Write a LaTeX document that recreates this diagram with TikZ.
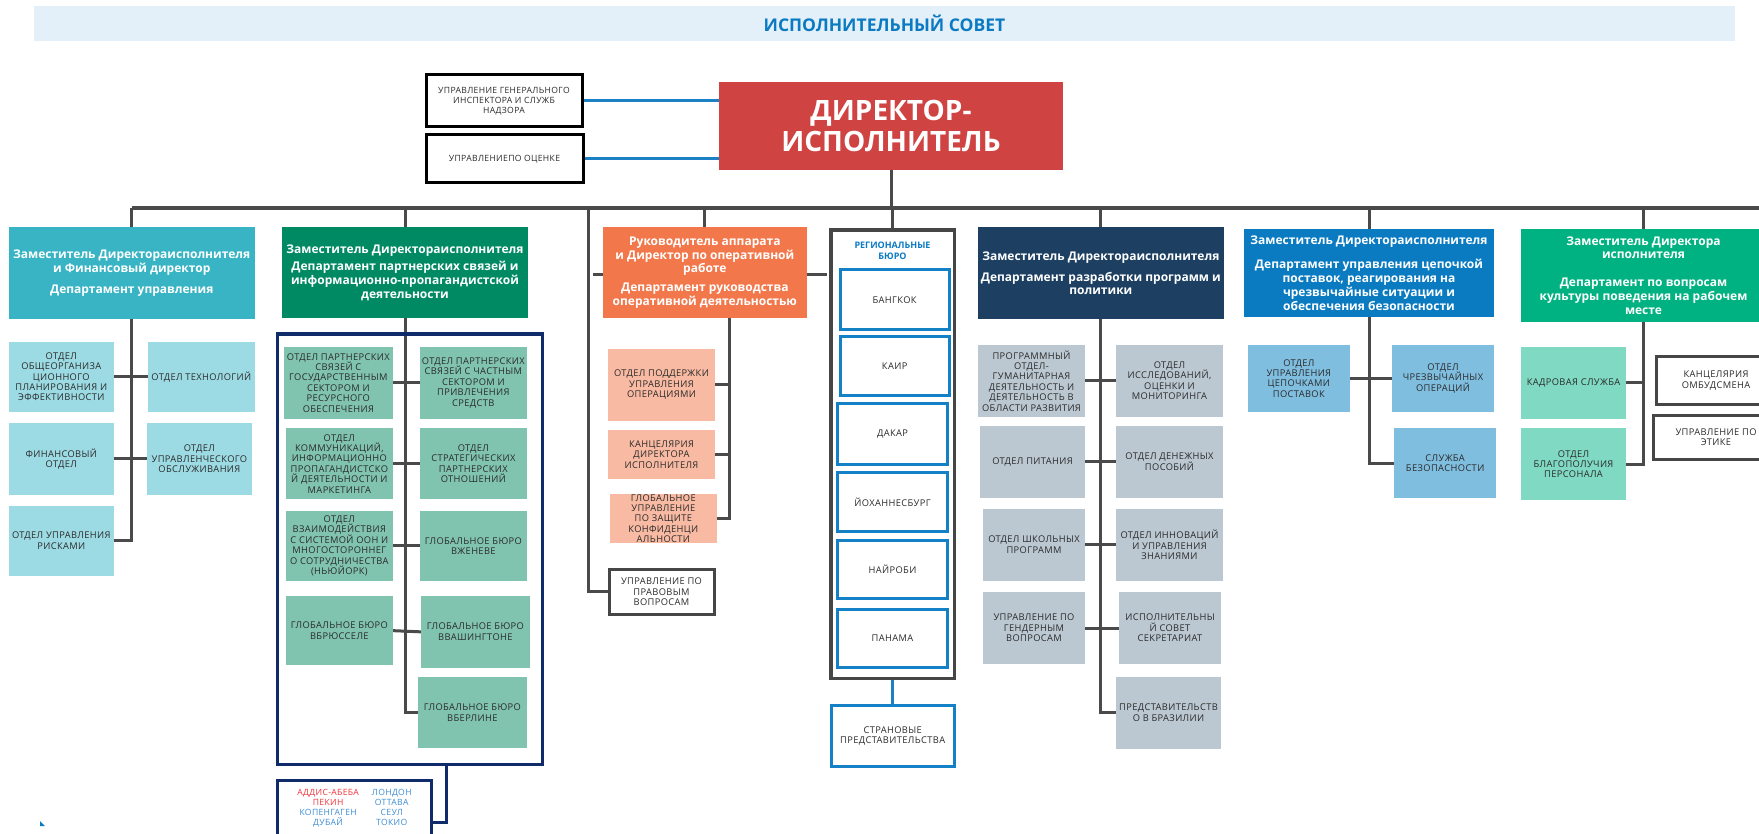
\documentclass[tikz,border=0pt]{standalone}
\usepackage{fontspec}
\setmainfont{Open Sans}
\newfontfamily\spfont[LetterSpace=4]{Open Sans}
\usetikzlibrary{backgrounds}
\definecolor{band}{HTML}{E3F0F9}
\definecolor{titleblue}{HTML}{0A7AC2}
\definecolor{dirred}{HTML}{D04343}
\definecolor{linkblue}{HTML}{1B80C4}
\definecolor{conn}{HTML}{4A4A4A}
\definecolor{txt}{HTML}{2A2A2A}
\definecolor{dA}{HTML}{38B4C4}\definecolor{cA}{HTML}{9DDBE4}
\definecolor{dB}{HTML}{008A64}\definecolor{cB}{HTML}{80C3AF}
\definecolor{navy}{HTML}{0F2B6A}
\definecolor{dC}{HTML}{F2784B}\definecolor{cC}{HTML}{F8BAA2}
\definecolor{reggray}{HTML}{464646}\definecolor{regblue}{HTML}{1481C7}
\definecolor{dD}{HTML}{1C3F62}\definecolor{cD}{HTML}{BBC8D2}
\definecolor{dE}{HTML}{0A7BC1}\definecolor{cE}{HTML}{80BEE0}
\definecolor{dF}{HTML}{00B281}\definecolor{cF}{HTML}{80D9C3}
\definecolor{cityred}{HTML}{F0343A}\definecolor{cityblue}{HTML}{3D8ED4}
\newcommand\bx[7]{\node[#2,minimum width={(#5)-(#3)},minimum height={(#6)-(#4)}] (#1) at ({((#3)+(#5))/2},{((#4)+(#6))/2}) {#7};}
\begin{document}
\begin{tikzpicture}[x=1pt,y=-1pt,
  box/.style={inner sep=0pt,outer sep=0pt,align=center,text=txt,font=\spfont\fontsize{9.3}{10.4}\selectfont},
  hdr/.style={box,text=white,font=\fontsize{12}{13.8}\selectfont\bfseries},
  wbox/.style={box,fill=white,draw=reggray,line width=3pt},
  rbox/.style={box,fill=white,draw=regblue,line width=3pt},
  cn/.style={draw=conn,line width=3pt},
  busline/.style={draw=conn,line width=4pt},
  bl/.style={draw=linkblue,line width=3pt}]
\useasboundingbox (0,0) rectangle (1759,834);
\clip (0,0) rectangle (1759,834);
% title and director
\bx{title}{box,fill=band,text=titleblue,font=\fontsize{17.5}{20}\selectfont\bfseries}{34}{6}{1735}{41}{ИСПОЛНИТЕЛЬНЫЙ СОВЕТ}
\bx{dir}{box,fill=dirred,text=white,font=\fontsize{28}{31.5}\selectfont\bfseries}{719}{82}{1063}{170}{ДИРЕКТОР-\\ИСПОЛНИТЕЛЬ}
\bx{insp}{box,fill=white,draw=black,line width=3pt,font=\spfont\fontsize{8.6}{10}\selectfont}{426}{75}{582}{127}{УПРАВЛЕНИЕ ГЕНЕРАЛЬНОГО\\ИНСПЕКТОРА И СЛУЖБ\\НАДЗОРА}
\bx{eval}{box,fill=white,draw=black,line width=3pt,font=\spfont\fontsize{8.6}{10}\selectfont}{426}{135}{583}{183}{УПРАВЛЕНИЕПО ОЦЕНКЕ}
% department 1
\bx{d1}{hdr,fill=dA}{9}{227.5}{254.5}{319}{Заместитель Директораисполнителя\\и Финансовый директор\\[7pt]Департамент управления}
\bx{c1a}{box,fill=cA}{9}{342}{113.6}{411.7}{ОТДЕЛ\\ОБЩЕОРГАНИЗА\\ЦИОННОГО\\ПЛАНИРОВАНИЯ И\\ЭФФЕКТИВНОСТИ}
\bx{c1b}{box,fill=cA}{148}{342}{254.6}{411.7}{ОТДЕЛ ТЕХНОЛОГИЙ}
\bx{c1c}{box,fill=cA}{9}{423}{113.6}{494.7}{ФИНАНСОВЫЙ\\ОТДЕЛ}
\bx{c1d}{box,fill=cA}{147}{423}{251.8}{494.7}{ОТДЕЛ\\УПРАВЛЕНЧЕСКОГО\\ОБСЛУЖИВАНИЯ}
\bx{c1e}{box,fill=cA}{9}{506}{113.6}{575.7}{ОТДЕЛ УПРАВЛЕНИЯ\\РИСКАМИ}
% department 2
\bx{d2}{hdr,fill=dB}{282}{227.5}{528}{317.7}{Заместитель Директораисполнителя\\[4pt]Департамент партнерских связей и\\информационно-пропагандистской\\деятельности}
\bx{pframe}{box,draw=navy,line width=3pt}{277.3}{334}{542.7}{764.3}{}
\bx{g1}{box,fill=cB}{284}{346.7}{392.7}{418.7}{ОТДЕЛ ПАРТНЕРСКИХ\\СВЯЗЕЙ С\\ГОСУДАРСТВЕННЫМ\\СЕКТОРОМ И\\РЕСУРСНОГО\\ОБЕСПЕЧЕНИЯ}
\bx{g2}{box,fill=cB}{420}{346.7}{526.7}{418.7}{ОТДЕЛ ПАРТНЕРСКИХ\\СВЯЗЕЙ С ЧАСТНЫМ\\СЕКТОРОМ И\\ПРИВЛЕЧЕНИЯ\\СРЕДСТВ}
\bx{g3}{box,fill=cB}{286}{428}{392.7}{499.3}{ОТДЕЛ\\КОММУНИКАЦИЙ,\\ИНФОРМАЦИОННО\\ПРОПАГАНДИСТСКО\\Й ДЕЯТЕЛЬНОСТИ И\\МАРКЕТИНГА}
\bx{g4}{box,fill=cB}{420}{428}{526.7}{499.3}{ОТДЕЛ\\СТРАТЕГИЧЕСКИХ\\ПАРТНЕРСКИХ\\ОТНОШЕНИЙ}
\bx{g5}{box,fill=cB}{286}{511}{392.7}{580.7}{ОТДЕЛ\\ВЗАИМОДЕЙСТВИЯ\\С СИСТЕМОЙ ООН И\\МНОГОСТОРОННЕГ\\О СОТРУДНИЧЕСТВА\\(НЬЮЙОРК)}
\bx{g6}{box,fill=cB}{420}{511}{526.7}{580.7}{ГЛОБАЛЬНОЕ БЮРО\\ВЖЕНЕВЕ}
\bx{g7}{box,fill=cB}{286}{596}{392.7}{665.3}{ГЛОБАЛЬНОЕ БЮРО\\ВБРЮССЕЛЕ}
\bx{g8}{box,fill=cB}{421}{596}{529.7}{667.7}{ГЛОБАЛЬНОЕ БЮРО\\ВВАШИНГТОНЕ}
\bx{g9}{box,fill=cB}{418}{677}{526.7}{748.3}{ГЛОБАЛЬНОЕ БЮРО\\ВБЕРЛИНЕ}
\bx{cities}{box,fill=white,draw=navy,line width=3pt,font=\spfont\fontsize{8.6}{10}\selectfont}{277.3}{780}{431.7}{837}{\begin{tabular}{@{}c@{\hspace{13pt}}c@{}}
\color{cityred}АДДИС-АБЕБА & \color{cityblue}ЛОНДОН\\
\color{cityred}ПЕКИН & \color{cityblue}ОТТАВА\\
\color{cityblue}КОПЕНГАГЕН & \color{cityblue}СЕУЛ\\
\color{cityblue}ДУБАЙ & \color{cityblue}ТОКИО\end{tabular}}
% department 3
\bx{d3}{hdr,fill=dC}{603}{227.5}{806.7}{317.7}{Руководитель аппарата\\и Директор по оперативной\\работе\\[5pt]Департамент руководства\\оперативной деятельностью}
\bx{o1}{box,fill=cC}{608.3}{349}{714.7}{420.7}{ОТДЕЛ ПОДДЕРЖКИ\\УПРАВЛЕНИЯ\\ОПЕРАЦИЯМИ}
\bx{o2}{box,fill=cC}{608.3}{430}{714.7}{478.7}{КАНЦЕЛЯРИЯ\\ДИРЕКТОРА\\ИСПОЛНИТЕЛЯ}
\bx{o3}{box,fill=cC}{610}{495.3}{716.7}{541.7}{ГЛОБАЛЬНОЕ\\УПРАВЛЕНИЕ\\ПО ЗАЩИТЕ\\КОНФИДЕНЦИ\\АЛЬНОСТИ}
\bx{legal}{wbox}{609}{569.3}{714}{614.3}{УПРАВЛЕНИЕ ПО\\ПРАВОВЫМ\\ВОПРОСАМ}
% regional offices
\bx{reg}{box,draw=reggray,line width=3.5pt}{831}{230}{954.3}{678.3}{}
\node[box,text=titleblue,font=\fontsize{9}{11}\selectfont\bfseries] (regt) at (892.5,250.5) {РЕГИОНАЛЬНЫЕ\\БЮРО};
\bx{r1}{rbox}{840}{270}{949.3}{330}{БАНГКОК}
\bx{r2}{rbox}{840}{336.7}{949.3}{395}{КАИР}
\bx{r3}{rbox}{837.7}{403.3}{947.3}{464.3}{ДАКАР}
\bx{r4}{rbox}{837.7}{472.7}{947.3}{531}{ЙОХАННЕСБУРГ}
\bx{r5}{rbox}{837.7}{540}{947.3}{598.3}{НАЙРОБИ}
\bx{r6}{rbox}{837.7}{609}{947.3}{667.3}{ПАНАМА}
\bx{country}{rbox}{831}{705.7}{954.3}{766.7}{СТРАНОВЫЕ\\ПРЕДСТАВИТЕЛЬСТВА}
% department 4
\bx{d4}{hdr,fill=dD}{978}{227.5}{1223.7}{319.3}{Заместитель Директораисполнителя\\[7pt]Департамент разработки программ и\\политики}
\bx{p1}{box,fill=cD}{978}{345}{1085}{416.7}{ПРОГРАММНЫЙ\\ОТДЕЛ-\\ГУМАНИТАРНАЯ\\ДЕЯТЕЛЬНОСТЬ И\\ДЕЯТЕЛЬНОСТЬ В\\ОБЛАСТИ РАЗВИТИЯ}
\bx{p2}{box,fill=cD}{1116}{345}{1223}{416.7}{ОТДЕЛ\\ИССЛЕДОВАНИЙ,\\ОЦЕНКИ И\\МОНИТОРИНГА}
\bx{p3}{box,fill=cD}{980}{426}{1085}{497.7}{ОТДЕЛ ПИТАНИЯ}
\bx{p4}{box,fill=cD}{1116}{426}{1223}{497.7}{ОТДЕЛ ДЕНЕЖНЫХ\\ПОСОБИЙ}
\bx{p5}{box,fill=cD}{983}{509}{1085}{580.7}{ОТДЕЛ ШКОЛЬНЫХ\\ПРОГРАММ}
\bx{p6}{box,fill=cD}{1116}{509}{1223}{580.7}{ОТДЕЛ ИННОВАЦИЙ\\И УПРАВЛЕНИЯ\\ЗНАНИЯМИ}
\bx{p7}{box,fill=cD}{983}{592.3}{1085}{663.7}{УПРАВЛЕНИЕ ПО\\ГЕНДЕРНЫМ\\ВОПРОСАМ}
\bx{p8}{box,fill=cD}{1119}{592.3}{1221}{663.7}{ИСПОЛНИТЕЛЬНЫ\\Й СОВЕТ\\СЕКРЕТАРИАТ}
\bx{p9}{box,fill=cD}{1116}{677}{1221}{748.7}{ПРЕДСТАВИТЕЛЬСТВ\\О В БРАЗИЛИИ}
% department 5
\bx{d5}{hdr,fill=dE}{1244}{229.3}{1494}{316.7}{Заместитель Директораисполнителя\\[11pt]Департамент управления цепочкой\\поставок, реагирования на\\чрезвычайные ситуации и\\обеспечения безопасности}
\bx{s1}{box,fill=cE}{1248}{345}{1349.7}{411.7}{ОТДЕЛ\\УПРАВЛЕНИЯ\\ЦЕПОЧКАМИ\\ПОСТАВОК}
\bx{s2}{box,fill=cE}{1392}{345}{1494}{411.7}{ОТДЕЛ\\ЧРЕЗВЫЧАЙНЫХ\\ОПЕРАЦИЙ}
\bx{s3}{box,fill=cE}{1394.3}{428.3}{1496}{497.7}{СЛУЖБА\\БЕЗОПАСНОСТИ}
% department 6
\bx{d6}{hdr,fill=dF}{1521}{229}{1766}{321.7}{Заместитель Директора\\исполнителя\\[14pt]Департамент по вопросам\\культуры поведения на рабочем\\месте}
\bx{w1}{box,fill=cF}{1521}{347}{1626}{418.7}{КАДРОВАЯ СЛУЖБА}
\bx{w2}{box,fill=cF}{1521}{428.3}{1626}{500}{ОТДЕЛ\\БЛАГОПОЛУЧИЯ\\ПЕРСОНАЛА}
\bx{e1}{wbox}{1656}{356.7}{1776}{404}{КАНЦЕЛЯРИЯ\\ОМБУДСМЕНА}
\bx{e2}{wbox}{1653}{415}{1779}{459.3}{УПРАВЛЕНИЕ ПО\\ЭТИКЕ}
\fill[titleblue] (40,821) -- (40,826) -- (45,826) -- cycle;
% connectors
\begin{pgfonlayer}{background}
\coordinate (busL) at (131.7,208.3);
\coordinate (busR) at (1770,208.3);
\coordinate (leg) at (588,208.3);
\coordinate (stub) at (588,274.3);
\coordinate (d3v) at (729.3,317.7);
\coordinate (d6v) at (1643,321.7);
\coordinate (cj) at (446,822.7);
\draw[busline] (busL) -- (busR);
\draw[cn] (dir.south) -- (dir.south |- busL);
\draw[bl] (insp.east) -- (insp.east -| dir.west);
\draw[bl] (eval.east) -- (eval.east -| dir.west);
\foreach \d in {d1,d2,d3,reg,d4,d5,d6} {\draw[cn] (\d.north) -- (\d.north |- busL);}
\draw[cn] (leg) |- (legal.west);
\draw[cn,shorten <=5pt,shorten >=4pt] (stub) -- (stub -| reg.west);
\draw[cn] (d1.south) |- (c1e.east);
\draw[cn] (c1a.east) -- (c1b.west);
\draw[cn] (c1c.east) -- (c1d.west);
\draw[cn] (d2.south) |- (g9.west);
\draw[cn] (g1.east) -- (g2.west);
\draw[cn] (g3.east) -- (g4.west);
\draw[cn] (g5.east) -- (g6.west);
\draw[cn] (g7.east) -- (g8.west);
\draw[draw=navy,line width=3pt] (pframe.south -| cj) |- (cities.east |- cj);
\draw[cn] (d3v) |- (o3.east);
\draw[cn] (o1.east) -- (o1.east -| d3v);
\draw[cn] (o2.east) -- (o2.east -| d3v);
\draw[bl] (reg.south) -- (country.north);
\draw[cn] (d4.south) |- (p9.west);
\draw[cn] (p1.east) -- (p2.west);
\draw[cn] (p3.east) -- (p4.west);
\draw[cn] (p5.east) -- (p6.west);
\draw[cn] (p7.east) -- (p8.west);
\draw[cn] (d5.south) |- (s3.west);
\draw[cn] (s1.east) -- (s2.west);
\draw[cn] (d6v) |- (w2.east);
\draw[cn] (w1.east) -- (w1.east -| d6v);
\end{pgfonlayer}
\end{tikzpicture}
\end{document}
